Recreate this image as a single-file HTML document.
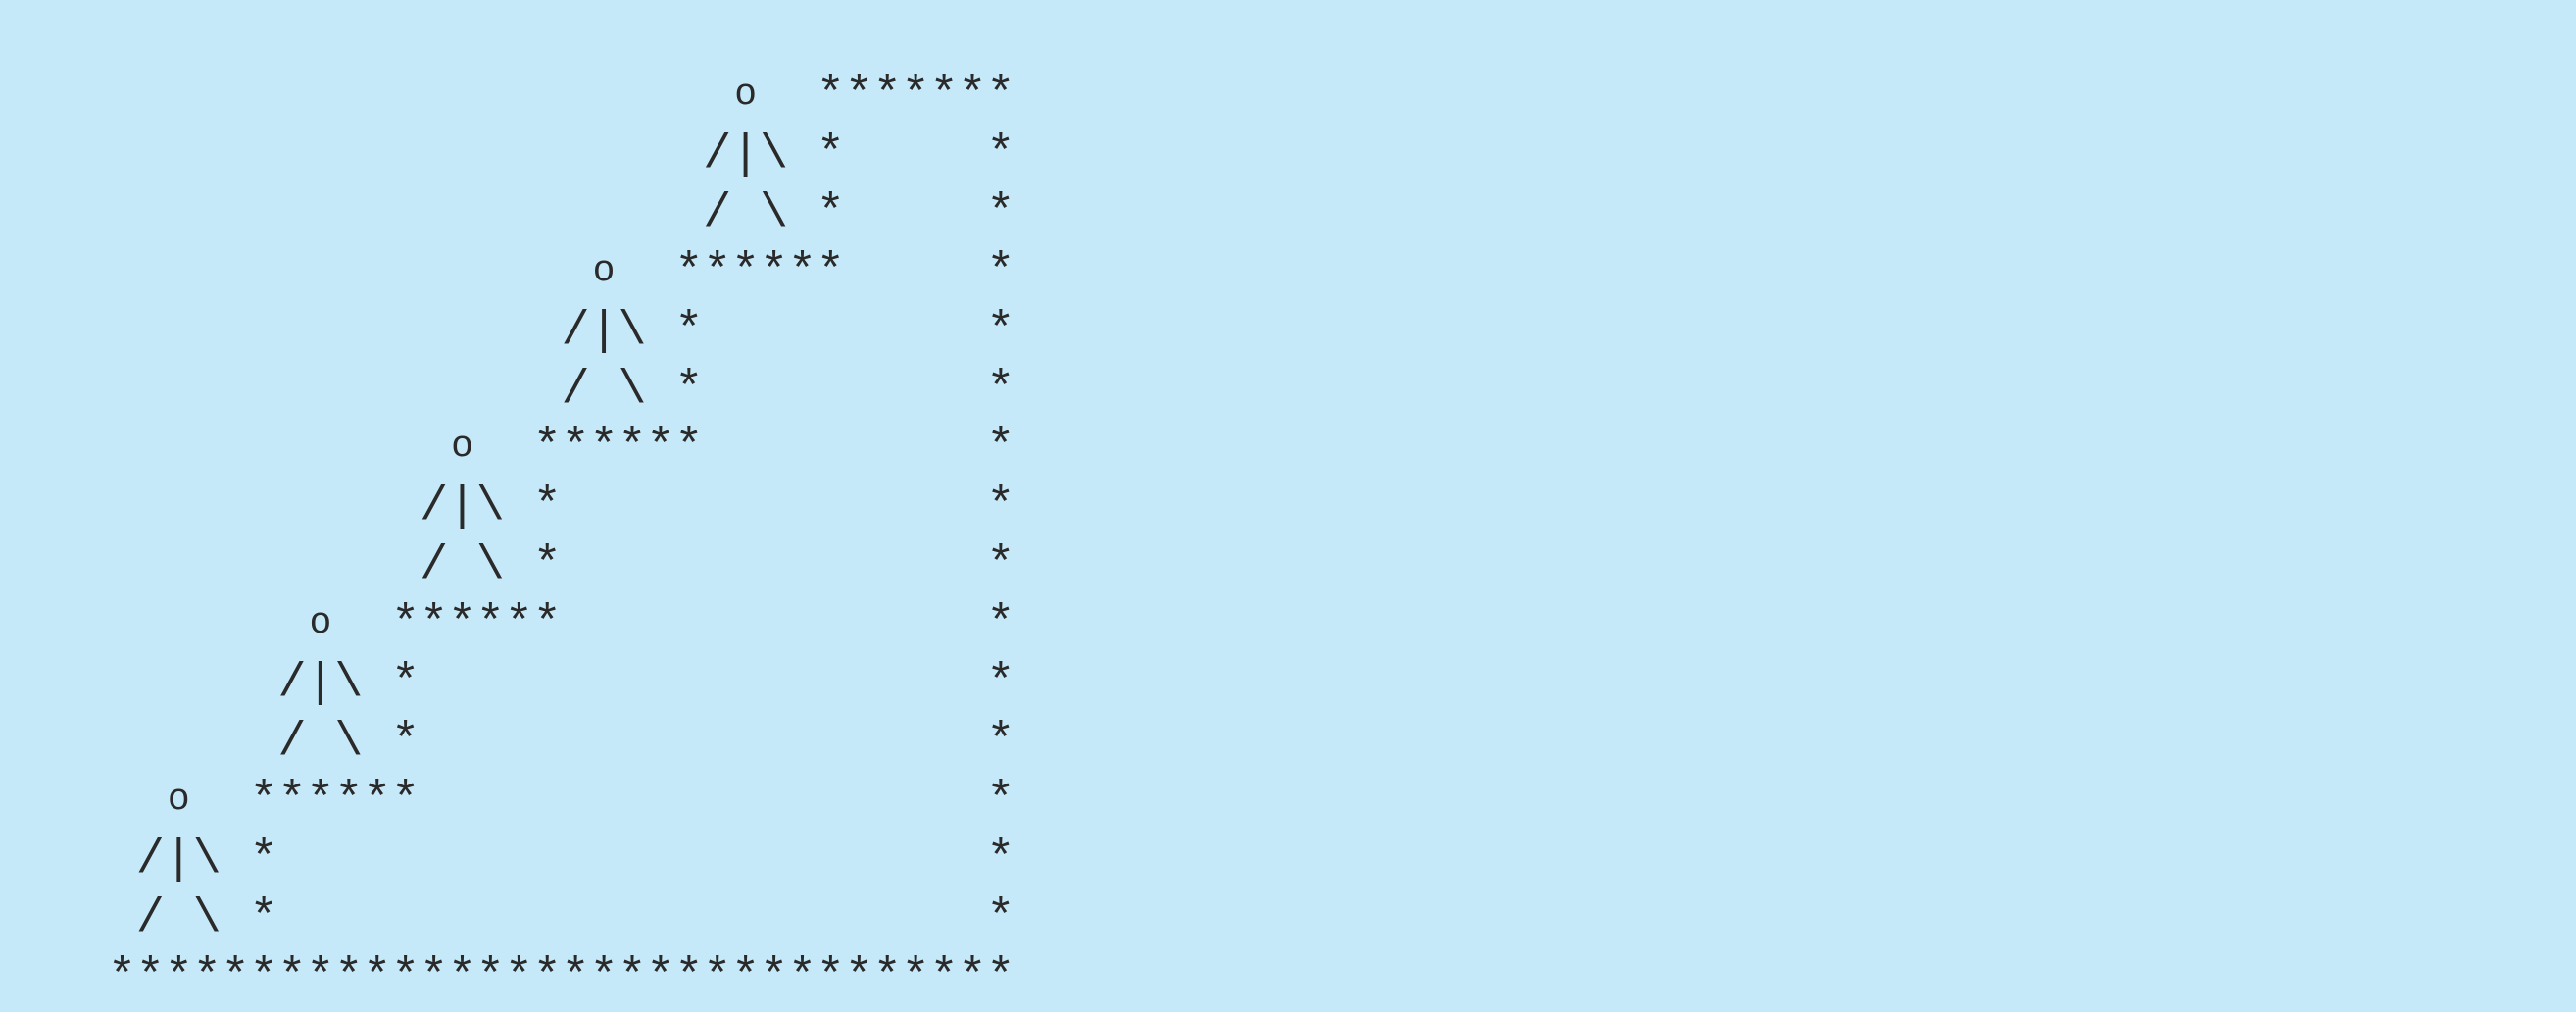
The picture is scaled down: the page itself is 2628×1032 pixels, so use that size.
<!DOCTYPE html>
<html><head><meta charset="utf-8"><style>
html,body{margin:0;padding:0;}
body{width:2628px;height:1032px;background:#c6e9f9;position:relative;overflow:hidden;}
pre{position:absolute;left:110px;top:69px;margin:0;font-family:"Liberation Mono",monospace;font-size:48.2px;line-height:59.9px;color:#2a2a2a;}
pre b{font-weight:normal;display:inline-block;width:28.92px;text-align:center;font-size:38px;position:relative;top:-4px;line-height:1;}
</style></head><body>
<pre>                      <b>o</b>  *******
                     /|\ *     *
                     / \ *     *
                 <b>o</b>  ******     *
                /|\ *          *
                / \ *          *
            <b>o</b>  ******          *
           /|\ *               *
           / \ *               *
       <b>o</b>  ******               *
      /|\ *                    *
      / \ *                    *
  <b>o</b>  ******                    *
 /|\ *                         *
 / \ *                         *
********************************</pre>
</body></html>
